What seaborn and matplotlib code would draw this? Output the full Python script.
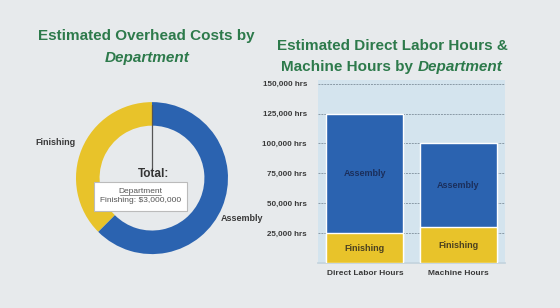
import numpy as np
import pandas as pd
import matplotlib
matplotlib.use("Agg")
import matplotlib.pyplot as plt
import seaborn as sns

# Overhead costs by department (donut)
departments = ["Finishing", "Assembly"]
overhead_costs = [3000000, 5000000]

# Hours by department (stacked bars)
hour_types = ["Direct Labor Hours", "Machine Hours"]
finishing_hours = [25000, 30000]
assembly_hours = [100000, 70000]
y_ticks = [25000, 50000, 75000, 100000, 125000, 150000]

BLUE = "#2b63b0"
YELLOW = "#e8c32a"
GREEN = "#2d7a4b"
BG = "#e7eaec"
TXT = "#3a3a3a"

sns.set_theme(style="white")
plt.rcParams['font.family'] = ['Liberation Sans', 'DejaVu Sans']

fig = plt.figure(figsize=(5.6, 3.08), dpi=100, facecolor=BG)


def title_line(x, y, plain, italic):
    # one centred title line: plain part + italic part
    t1 = fig.text(0, y, plain, ha="left", va="center", fontsize=11,
                  fontweight="bold", color=GREEN)
    t2 = fig.text(0, y, italic, ha="left", va="center", fontsize=11,
                  fontweight="bold", style="italic", color=GREEN)
    fig.canvas.draw()
    r = fig.canvas.get_renderer()
    w1 = t1.get_window_extent(r).width / fig.bbox.width
    w2 = t2.get_window_extent(r).width / fig.bbox.width
    x0 = x - (w1 + w2) / 2
    t1.set_x(x0)
    t2.set_x(x0 + w1)


# ---------- titles ----------
title_line(0.262, 0.882, "Estimated Overhead Costs by", "")
title_line(0.262, 0.813, "", "Department")
title_line(0.700, 0.850, "Estimated Direct Labor Hours &", "")
title_line(0.700, 0.784, "Machine Hours by ", "Department")

# ---------- donut ----------
ax1 = fig.add_axes([0.1357, 0.175, 0.2714, 0.4935])
ax1.set_facecolor(BG)
ax1.pie(overhead_costs, colors=[YELLOW, BLUE], startangle=90, counterclock=True,
        radius=1, wedgeprops=dict(width=0.31, edgecolor="none"))
ax1.set_xlim(-1, 1)
ax1.set_ylim(-1, 1)
ax1.plot([0, 0], [0.96, 0.12], color="#555555", lw=0.9)
ax1.text(0.02, 0.05, "Total:", ha="center", va="center", fontsize=8.5,
         fontweight="bold", color="#333333")
ax1.text(-1.0, 0.47, departments[0], ha="right", va="center", fontsize=6.5,
         fontweight="bold", color=TXT)
ax1.text(0.9, -0.53, departments[1], ha="left", va="center", fontsize=6.5,
         fontweight="bold", color=TXT)
ax1.text(-0.15, -0.24, "Department\nFinishing: $3,000,000", ha="center",
         va="center", fontsize=6, color="#555555", linespacing=1.4, zorder=5,
         bbox=dict(boxstyle="square,pad=0.75", fc="white", ec="#bbbbbb", lw=0.8))

# underline under "Department" in the tooltip
fig.canvas.draw()
dept = ax1.texts[-1]
r = fig.canvas.get_renderer()
bb = dept.get_window_extent(r)
inv = ax1.transData.inverted()
(_, y_top) = inv.transform((bb.x0, bb.y1))
(_, y_bot) = inv.transform((bb.x0, bb.y0))
line_h = (y_top - y_bot) / 2
y_ul = y_top - line_h * 0.78
half_w = 0.275
ax1.plot([-0.15 - half_w, -0.15 + half_w], [y_ul, y_ul], color="#666666",
         lw=0.5, zorder=6)

# ---------- stacked bars ----------
df = pd.DataFrame({"type": hour_types,
                   "Finishing": finishing_hours,
                   "Assembly": assembly_hours})
df["Total"] = df["Finishing"] + df["Assembly"]

ax2 = fig.add_axes([0.568, 0.146, 0.334, 0.594])
ax2.set_facecolor("#d4e4ee")
sns.barplot(data=df, x="type", y="Total", color=BLUE, width=0.82,
            saturation=1, ax=ax2, zorder=2)
sns.barplot(data=df, x="type", y="Finishing", color=YELLOW, width=0.82,
            saturation=1, ax=ax2, zorder=3)

tot_bars = ax2.containers[0]
fin_bars = ax2.containers[1]
for bar, f, a in zip(tot_bars, finishing_hours, assembly_hours):
    ax2.text(bar.get_x() + bar.get_width() / 2, f + a / 2, "Assembly",
             ha="center", va="center", fontsize=6.5, fontweight="bold",
             color="#1b2f5c", zorder=4)
ax2.bar_label(fin_bars, labels=["Finishing"] * len(hour_types), label_type="center",
              fontsize=6.5, fontweight="bold", color="#4a4020")

ax2.set_ylim(0, 153000)
ax2.set_xlim(-0.5, 1.5)
ax2.set_yticks(y_ticks)
ax2.set_yticklabels([f"{v:,} hrs" for v in y_ticks], fontsize=5.8,
                    fontweight="bold", color=TXT)
ax2.set_xticks(range(len(hour_types)))
ax2.set_xticklabels(hour_types, fontsize=6, fontweight="bold", color=TXT)
ax2.grid(axis="y", color="#8a9aa6", linestyle=(0, (2, 1)), lw=0.7, zorder=1)
ax2.tick_params(axis="y", length=6, pad=2, color="#8a9aa6", width=0.7)
ax2.tick_params(axis="x", length=0, pad=5)
ax2.set_xlabel("")
ax2.set_ylabel("")
for s in ax2.spines.values():
    s.set_visible(False)
ax2.spines["bottom"].set_visible(True)
ax2.spines["bottom"].set_color("#c4d4de")

fig.savefig("out.png", dpi=100, facecolor=BG)
